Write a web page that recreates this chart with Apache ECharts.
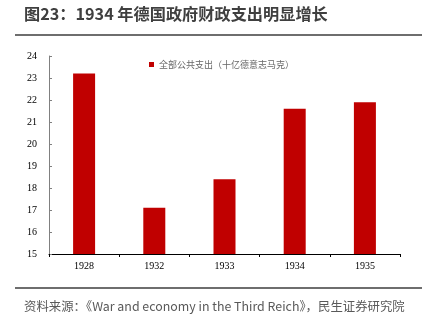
<!DOCTYPE html>
<html><head><meta charset="utf-8">
<script src="https://cdn.jsdelivr.net/npm/echarts@6/dist/echarts.min.js"></script>
<style>html,body{margin:0;padding:0;background:#fff;}#c{width:434px;height:325px;}</style>
</head><body><div id="c"></div>
<script>
const categories = ['1928', '1932', '1933', '1934', '1935'];
const spending = [23.2, 17.1, 18.4, 21.6, 21.9];
const seriesName = '全部公共支出（十亿德意志马克）';
const titleText = '图23：1934 年德国政府财政支出明显增长';
const sourceText = '资料来源：《War and economy in the Third Reich》，民生证券研究院';

const chart = echarts.init(document.getElementById('c'), null, {renderer: 'canvas'});
chart.setOption({
  animation: false,
  backgroundColor: '#fff',
  graphic: [
    {type: 'text', left: 24, top: 6, style: {text: titleText, font: 'bold 16.2px "Noto Sans CJK SC", sans-serif', fill: '#3f3f3f'}},
    {type: 'rect', shape: {x: 15, y: 34, width: 407, height: 2}, style: {fill: '#6e6e6e'}},
    {type: 'rect', shape: {x: 15, y: 287, width: 407, height: 2}, style: {fill: '#6e6e6e'}},
    {type: 'text', left: 24, top: 300, style: {text: sourceText, font: '12.4px "Noto Sans CJK SC", sans-serif', fill: '#595959'}}
  ],
  legend: {
    top: 55, left: 144,
    itemWidth: 5, itemHeight: 5, itemGap: 4,
    icon: 'rect',
    textStyle: {fontSize: 9, color: '#666', fontFamily: '"Noto Sans CJK SC", serif'},
    data: [seriesName]
  },
  grid: {left: 49, right: 34, top: 56, bottom: 71, containLabel: false},
  xAxis: {
    type: 'category', data: categories,
    axisLine: {lineStyle: {color: '#000', width: 1}},
    axisTick: {show: true, length: 3, lineStyle: {color: '#000'}},
    axisLabel: {fontFamily: '"Liberation Serif", serif', fontSize: 10, color: '#000', margin: 7}
  },
  yAxis: {
    type: 'value', min: 15, max: 24, interval: 1,
    axisLine: {show: true, lineStyle: {color: '#808080', width: 1}},
    axisTick: {show: true, inside: true, length: 3, lineStyle: {color: '#808080'}},
    axisLabel: {fontFamily: '"Liberation Serif", serif', fontSize: 10, color: '#000', margin: 12},
    splitLine: {show: false}
  },
  series: [{
    name: seriesName, type: 'bar', data: spending,
    barWidth: 22,
    itemStyle: {color: '#c00000'}
  }]
});
</script></body></html>
